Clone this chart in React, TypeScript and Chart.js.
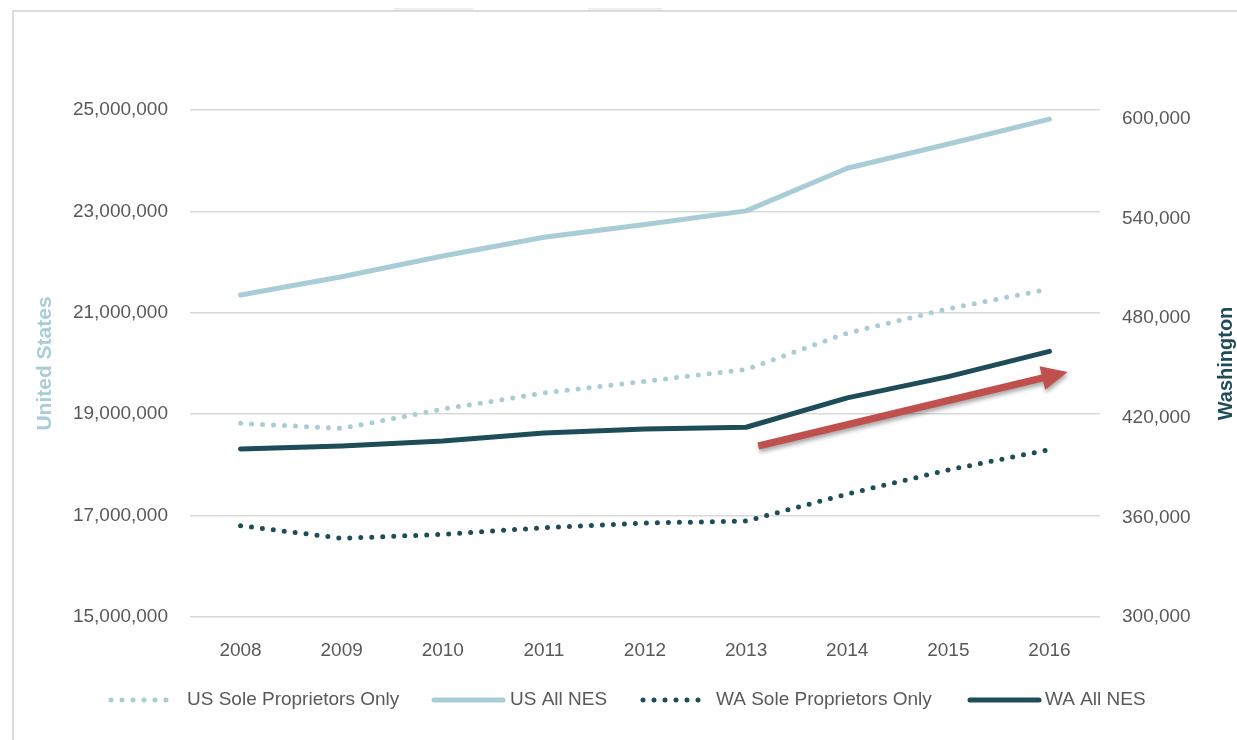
import { useEffect, useRef } from 'react';
import { Chart, registerables } from 'chart.js';

Chart.register(...registerables);

// ---- data ----
const years = ['2008', '2009', '2010', '2011', '2012', '2013', '2014', '2015', '2016'];
const usSoleProprietors = [18820000, 18720000, 19100000, 19420000, 19650000, 19880000, 20600000, 21080000, 21470000];
const usAllNES = [21350000, 21710000, 22120000, 22490000, 22740000, 23010000, 23850000, 24330000, 24820000];
const waSoleProprietors = [355000, 347400, 349800, 353800, 356600, 357800, 374100, 388600, 400800];
const waAllNES = [401200, 403000, 406000, 410800, 413300, 414300, 432000, 444800, 460000];
const leftTicks = [15000000, 17000000, 19000000, 21000000, 23000000, 25000000];
const rightTicks = [300000, 360000, 420000, 480000, 540000, 600000];
const seriesLabels = ['US Sole Proprietors Only', 'US All NES', 'WA Sole Proprietors Only', 'WA All NES'];
const axisTitles = ['United States', 'Washington'];
// trend arrow, in data space: [category index, Washington value]
const arrowFrom = [5.12, 403000];
const arrowTo = [8.18, 447600];

// ---- styles ----
const LIGHT = '#a9cdd7';
const DARK = '#1e4c58';
const TEXT = '#595959';
const GRID = '#d9d9d9';
const RED = '#c0504d';
const FONT = '"Liberation Sans", Arial, Helvetica, sans-serif';
const legendLayout = [
  { x1: 111, x2: 173, tx: 187 },
  { x1: 434, x2: 503, tx: 510 },
  { x1: 643, x2: 705, tx: 716 },
  { x1: 970, x2: 1039, tx: 1045 },
];
const LEGEND_Y = 700;

const fmt = (v: number) => Math.round(v).toLocaleString('en-US');

export default function App() {
  const ref = useRef<HTMLCanvasElement>(null);

  useEffect(() => {
    const canvas = ref.current;
    if (!canvas) return;

    const overlay = {
      id: 'overlay',
      afterDatasetsDraw(chart: any) {
        const ctx = chart.ctx;
        const xs = chart.scales.x;
        const yr = chart.scales.yRight;
        const x1 = xs.getPixelForValue(arrowFrom[0]);
        const y1 = yr.getPixelForValue(arrowFrom[1]);
        const x2 = xs.getPixelForValue(arrowTo[0]);
        const y2 = yr.getPixelForValue(arrowTo[1]);
        const ang = Math.atan2(y2 - y1, x2 - x1);
        const len = Math.hypot(x2 - x1, y2 - y1);
        const hl = 26, hw = 12, sw = 3.6;
        ctx.save();
        ctx.translate(x1, y1);
        ctx.rotate(ang);
        ctx.beginPath();
        ctx.moveTo(0, -sw);
        ctx.lineTo(len - hl, -sw);
        ctx.lineTo(len - hl, -hw);
        ctx.lineTo(len, 0);
        ctx.lineTo(len - hl, hw);
        ctx.lineTo(len - hl, sw);
        ctx.lineTo(0, sw);
        ctx.closePath();
        ctx.shadowColor = 'rgba(0,0,0,0.35)';
        ctx.shadowBlur = 4;
        ctx.shadowOffsetX = 1;
        ctx.shadowOffsetY = 3;
        ctx.fillStyle = RED;
        ctx.fill();
        ctx.restore();
      },
      afterDraw(chart: any) {
        const ctx = chart.ctx;
        const area = chart.chartArea;
        const cy = (area.top + area.bottom) / 2;
        // axis titles
        ctx.save();
        ctx.textAlign = 'center';
        ctx.textBaseline = 'middle';
        ctx.font = `bold 21px ${FONT}`;
        ctx.fillStyle = LIGHT;
        ctx.translate(45, cy);
        ctx.rotate(-Math.PI / 2);
        ctx.fillText(axisTitles[0], 0, 0);
        ctx.restore();
        ctx.save();
        ctx.textAlign = 'center';
        ctx.textBaseline = 'middle';
        ctx.font = `bold 20px ${FONT}`;
        ctx.fillStyle = DARK;
        ctx.translate(1226, cy);
        ctx.rotate(-Math.PI / 2);
        ctx.fillText(axisTitles[1], 0, 0);
        ctx.restore();
        // legend
        chart.data.datasets.forEach((ds: any, i: number) => {
          const L = legendLayout[i];
          ctx.save();
          ctx.strokeStyle = ds.borderColor;
          ctx.lineWidth = ds.borderWidth;
          ctx.lineCap = ds.borderCapStyle || 'butt';
          ctx.setLineDash(ds.borderDash || []);
          ctx.beginPath();
          ctx.moveTo(L.x1, LEGEND_Y);
          ctx.lineTo(L.x2, LEGEND_Y);
          ctx.stroke();
          ctx.restore();
          ctx.save();
          ctx.font = `19px ${FONT}`;
          ctx.fillStyle = TEXT;
          ctx.textAlign = 'left';
          ctx.textBaseline = 'middle';
          ctx.fillText(ds.label, L.tx, LEGEND_Y);
          ctx.restore();
        });
      },
    };

    const tickFont = { family: FONT, size: 19 };

    const chart = new Chart(canvas, {
      type: 'line',
      data: {
        labels: years,
        datasets: [
          { label: seriesLabels[0], data: usSoleProprietors, yAxisID: 'yLeft', borderColor: LIGHT, backgroundColor: LIGHT, borderWidth: 5, borderDash: [0, 11], borderCapStyle: 'round' },
          { label: seriesLabels[1], data: usAllNES, yAxisID: 'yLeft', borderColor: LIGHT, backgroundColor: LIGHT, borderWidth: 5, borderCapStyle: 'round' },
          { label: seriesLabels[2], data: waSoleProprietors, yAxisID: 'yRight', borderColor: DARK, backgroundColor: DARK, borderWidth: 5, borderDash: [0, 11], borderCapStyle: 'round' },
          { label: seriesLabels[3], data: waAllNES, yAxisID: 'yRight', borderColor: DARK, backgroundColor: DARK, borderWidth: 5, borderCapStyle: 'round' },
        ],
      },
      options: {
        responsive: false,
        animation: false,
        events: [],
        layout: { padding: { top: 110, bottom: 83, left: 0, right: 0 } },
        elements: {
          point: { radius: 0, hoverRadius: 0 },
          line: { tension: 0, borderJoinStyle: 'round' },
        },
        plugins: { legend: { display: false }, tooltip: { enabled: false } },
        scales: {
          x: {
            type: 'category',
            offset: true,
            grid: { display: false },
            border: { display: false },
            ticks: { color: TEXT, font: tickFont, padding: 14, maxRotation: 0, autoSkip: false },
            afterFit: (s: any) => { s.height = 40; },
          },
          yLeft: {
            type: 'linear',
            position: 'left',
            min: leftTicks[0],
            max: leftTicks[leftTicks.length - 1],
            grid: { color: GRID, lineWidth: 1.5, drawTicks: false },
            border: { display: false },
            ticks: { color: TEXT, font: tickFont, padding: 22, callback: (v: any) => fmt(Number(v)) },
            afterBuildTicks: (s: any) => { s.ticks = leftTicks.map((v) => ({ value: v })); },
            afterFit: (s: any) => { s.width = 190; },
          },
          yRight: {
            type: 'linear',
            position: 'right',
            min: 300000,
            max: 605400,
            grid: { display: false, drawTicks: false },
            border: { display: false },
            ticks: { color: TEXT, font: tickFont, padding: 22, callback: (v: any) => fmt(Number(v)) },
            afterBuildTicks: (s: any) => { s.ticks = rightTicks.map((v) => ({ value: v })); },
            afterFit: (s: any) => { s.width = 137; },
          },
        },
      } as any,
      plugins: [overlay],
    });

    return () => chart.destroy();
  }, []);

  return (
    <div style={{ position: 'absolute', left: 0, top: 0, width: 1237, height: 740, background: '#ffffff', overflow: 'hidden' }}>
      <div style={{ position: 'absolute', left: 394, top: 8, width: 79, height: 3, background: '#eeeeee' }} />
      <div style={{ position: 'absolute', left: 588, top: 8, width: 74, height: 3, background: '#eeeeee' }} />
      <div style={{ position: 'absolute', left: 12, top: 10, width: 1240, height: 740, borderLeft: '2px solid #dcdcdc', borderTop: '2px solid #dcdcdc' }} />
      <canvas ref={ref} width={1237} height={740} style={{ position: 'absolute', left: 0, top: 0, display: 'block' }} />
    </div>
  );
}
